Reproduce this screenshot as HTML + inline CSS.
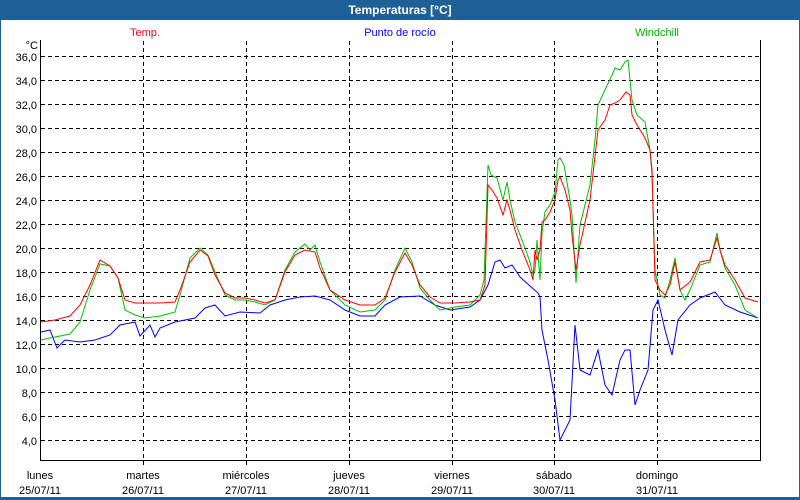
<!DOCTYPE html>
<html><head><meta charset="utf-8"><style>
html,body{margin:0;padding:0;background:#fff}
svg{display:block}
text{font-family:"Liberation Sans",Tahoma,sans-serif;font-size:11px}
</style></head><body>
<svg width="800" height="500" xmlns="http://www.w3.org/2000/svg">
<rect x="0" y="0" width="800" height="500" fill="#fff"/>
<rect x="0" y="0" width="800" height="20" fill="#1e6096"/>
<rect x="0" y="0" width="1" height="500" fill="#1e6096"/>
<rect x="799" y="0" width="1" height="500" fill="#1e6096"/>
<rect x="0" y="497" width="800" height="3" fill="#1e6096"/>
<text x="400" y="14" text-anchor="middle" fill="#fff" font-weight="bold" style="font-size:12px">Temperaturas [°C]</text>
<text x="145" y="36" text-anchor="middle" fill="#f00020">Temp.</text>
<text x="400" y="36" text-anchor="middle" fill="#0000ff">Punto de rocío</text>
<text x="657" y="36" text-anchor="middle" fill="#00b000">Windchill</text>
<text x="38" y="49" text-anchor="end" fill="#000">°C</text>
<g stroke="#000" stroke-width="1" stroke-dasharray="4,3" fill="none">
<path d="M41 56.5H760M41 80.5H760M41 104.5H760M41 128.5H760M41 152.5H760M41 176.5H760M41 200.5H760M41 224.5H760M41 248.5H760M41 272.5H760M41 296.5H760M41 320.5H760M41 344.5H760M41 368.5H760M41 392.5H760M41 416.5H760M41 440.5H760"/>
<path d="M143.5 41V466M246.5 41V466M349.5 41V466M452.5 41V466M554.5 41V466M657.5 41V466"/>
</g>
<path d="M40.5 40V460.5H760.5V40" stroke="#000" fill="none"/>
<g fill="#000" text-anchor="end">
<text x="37" y="61">36,0</text><text x="37" y="85">34,0</text><text x="37" y="109">32,0</text><text x="37" y="133">30,0</text><text x="37" y="157">28,0</text><text x="37" y="181">26,0</text><text x="37" y="205">24,0</text><text x="37" y="229">22,0</text><text x="37" y="253">20,0</text><text x="37" y="277">18,0</text><text x="37" y="301">16,0</text><text x="37" y="325">14,0</text><text x="37" y="349">12,0</text><text x="37" y="373">10,0</text><text x="37" y="397">8,0</text><text x="37" y="421">6,0</text><text x="37" y="445">4,0</text>
</g>
<g fill="#000" text-anchor="middle">
<text x="40" y="479">lunes</text><text x="40" y="494">25/07/11</text>
<text x="143" y="479">martes</text><text x="143" y="494">26/07/11</text>
<text x="246" y="479">miércoles</text><text x="246" y="494">27/07/11</text>
<text x="349" y="479">jueves</text><text x="349" y="494">28/07/11</text>
<text x="452" y="479">viernes</text><text x="452" y="494">29/07/11</text>
<text x="554" y="479">sábado</text><text x="554" y="494">30/07/11</text>
<text x="657" y="479">domingo</text><text x="657" y="494">31/07/11</text>
</g>
<polyline fill="none" stroke="#0000ff" points="41,332 50,330 57,348 65,340 80,342 95,340 110,335 120,325 135,322 140,336 150,325 155,337 160,328 175,322 195,318 205,308 215,305 225,316 240,312 260,313 270,305 285,300 300,297 315,296 330,300 345,310 360,316 375,316 385,305 400,297 420,296 435,305 450,310 470,307 480,300 488,285 495,262 500,260 505,268 512,265 520,277 530,286 538,293 540,297 542,330 548,360 555,400 560,440 570,420 575,325 580,370 590,375 598,350 605,385 612,395 620,360 625,350 630,350 635,405 640,390 648,370 653,310 658,300 665,330 672,355 678,320 690,305 700,298 715,292 725,305 740,312 758,318"/>
<polyline fill="none" stroke="#00c000" points="41,340 50,338 60,336 70,334 80,322 90,290 100,264 110,266 118,278 125,310 135,315 145,318 160,316 175,312 180,295 190,258 200,248 208,255 215,272 225,295 235,300 245,300 255,302 265,305 275,300 285,270 295,252 305,244 310,250 315,245 320,262 330,290 345,305 360,312 375,310 385,300 395,270 405,248 412,262 420,288 430,300 440,310 455,307 470,305 480,295 484,280 488,165 491,175 497,178 503,200 507,182 510,200 515,222 522,240 530,262 533,275 535,270 537,240 540,280 542,233 545,212 550,205 555,192 558,160 560,158 564,165 570,200 572,215 576,283 580,225 590,185 595,140 598,105 605,90 612,75 615,68 620,70 625,62 628,60 632,100 637,115 645,122 650,150 652,175 655,270 660,295 665,298 670,280 675,258 680,290 685,300 690,290 700,265 710,262 717,233 720,250 725,268 735,285 745,310 758,318"/>
<polyline fill="none" stroke="#ff0000" points="41,322 55,320 70,316 80,305 90,285 100,260 110,266 118,278 125,300 135,303 145,303 160,303 175,302 180,290 190,262 200,250 208,256 215,275 225,293 235,298 245,298 255,300 265,303 275,300 285,272 295,255 305,250 315,252 320,268 330,290 345,300 360,305 375,305 385,298 395,272 405,253 412,265 420,285 430,297 440,303 455,303 470,302 480,300 485,285 488,185 492,190 497,198 503,215 507,200 510,210 515,230 522,250 530,270 533,280 535,250 537,260 540,250 542,222 545,220 550,212 555,200 558,180 560,177 565,190 570,210 572,235 576,270 580,245 590,200 598,130 605,120 610,105 615,103 620,100 626,92 630,95 632,115 637,125 645,138 650,150 652,170 655,280 660,290 665,295 670,285 675,262 680,290 690,282 700,262 710,260 717,238 720,250 725,265 735,280 745,298 758,302"/>
</svg>
</body></html>
